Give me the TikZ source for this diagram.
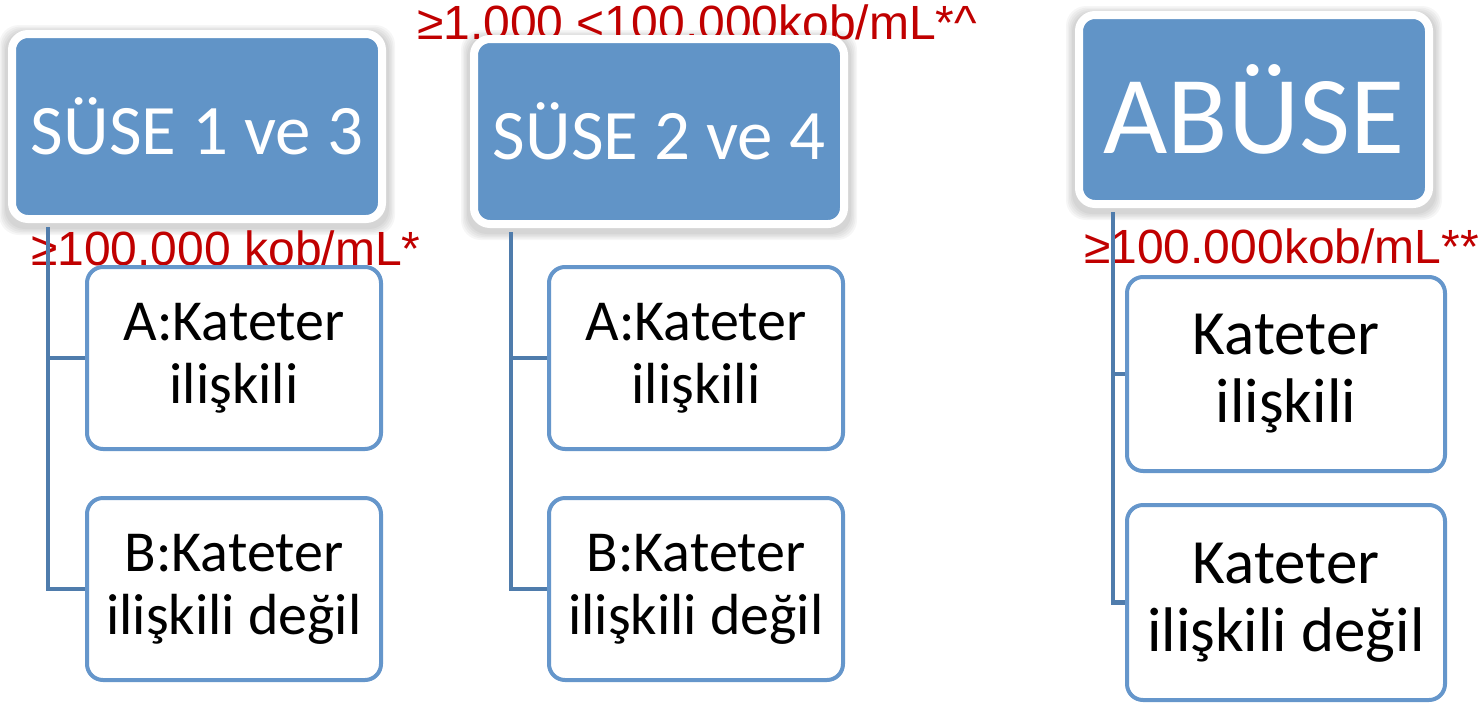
\documentclass[tikz,border=0pt]{standalone}
\usepackage{fontspec}
\setmainfont{Carlito}
\newfontfamily\arialfont{Liberation Sans}
\pgfdeclarelayer{background}
\pgfsetlayers{background,main}
\definecolor{hdrfill}{RGB}{97,148,199}
\definecolor{boxline}{RGB}{101,150,203}
\definecolor{connline}{RGB}{79,124,172}
\definecolor{labred}{RGB}{192,0,0}
\tikzset{
  header/.style={draw=white, line width=8pt, fill=hdrfill, rounded corners=16pt,
    text=white, align=center, inner sep=0pt},
  child/.style={draw=boxline, line width=4pt, fill=white, rounded corners=16pt,
    text=black, align=center, inner sep=0pt},
  conn/.style={draw=connline, line width=4.5pt},
  redlab/.style={text=labred, anchor=base west, inner sep=0pt,
    font=\arialfont\fontsize{48}{52}\selectfont},
  shadowlayer/.style={fill=black, opacity=0.035, rounded corners=20pt}
}
\begin{document}
\begin{tikzpicture}[x=1pt,y=-1pt]
\useasboundingbox (0,0) rectangle (1484,705);
% labels
\node[redlab] (l1) at (31,265) {≥100.000 kob/mL*};
\node[redlab] (l2) at (417,39) {≥1.000 <100.000kob/mL*\^{}};
\node[redlab] (l3) at (1084,263) {≥100.000kob/mL**};
% headers
\node[header, minimum width=370pt, minimum height=185pt, font=\fontsize{71}{78}\selectfont] (h1) at (197,126.5) {SÜSE 1 ve 3};
\node[header, minimum width=370pt, minimum height=185pt, font=\fontsize{71}{78}\selectfont] (h2) at (659,131.5) {SÜSE 2 ve 4};
\node[header, minimum width=350pt, minimum height=189pt, font=\fontsize{111}{120}\selectfont] (h3) at (1254,109.5) {ABÜSE};
% soft shadows behind headers
\begin{pgfonlayer}{background}
\foreach \h in {h1,h2,h3}{
  \foreach \k in {4,5.5,7,8.5,10}{
    \fill[shadowlayer] ([shift={(-\k+1,-\k+5)}]\h.north west) rectangle ([shift={(\k-1,\k+2)}]\h.south east);
  }
}
\end{pgfonlayer}
% children
\node[child, minimum width=294pt, minimum height=182pt, font=\fontsize{58}{63}\selectfont] (a1) at (234,358) {A:Kateter\\ilişkili};
\node[child, minimum width=294pt, minimum height=182pt, font=\fontsize{58}{63}\selectfont] (b1) at (234,589) {B:Kateter\\ilişkili değil};
\node[child, minimum width=294pt, minimum height=182pt, font=\fontsize{58}{63}\selectfont] (a2) at (696,358) {A:Kateter\\ilişkili};
\node[child, minimum width=294pt, minimum height=182pt, font=\fontsize{58}{63}\selectfont] (b2) at (696,589) {B:Kateter\\ilişkili değil};
\node[child, minimum width=318pt, minimum height=194pt, font=\fontsize{63}{68}\selectfont] (a3) at (1286,374) {Kateter\\ilişkili};
\node[child, minimum width=318pt, minimum height=195pt, font=\fontsize{63}{68}\selectfont] (b3) at (1286,602.5) {Kateter\\ilişkili değil};
% connectors
\coordinate (v1) at (48,0);
\coordinate (v2) at (511,0);
\coordinate (v3) at (1113,0);
\draw[conn] ([yshift=-4pt]v1 |- h1.south) |- (a1.west);
\draw[conn] ([yshift=-4pt]v1 |- h1.south) |- (b1.west);
\draw[conn] ([yshift=-4pt]v2 |- h2.south) |- (a2.west);
\draw[conn] ([yshift=-4pt]v2 |- h2.south) |- (b2.west);
\draw[conn] ([yshift=-4pt]v3 |- h3.south) |- (a3.west);
\draw[conn] ([yshift=-4pt]v3 |- h3.south) |- (b3.west);
\end{tikzpicture}
\end{document}
